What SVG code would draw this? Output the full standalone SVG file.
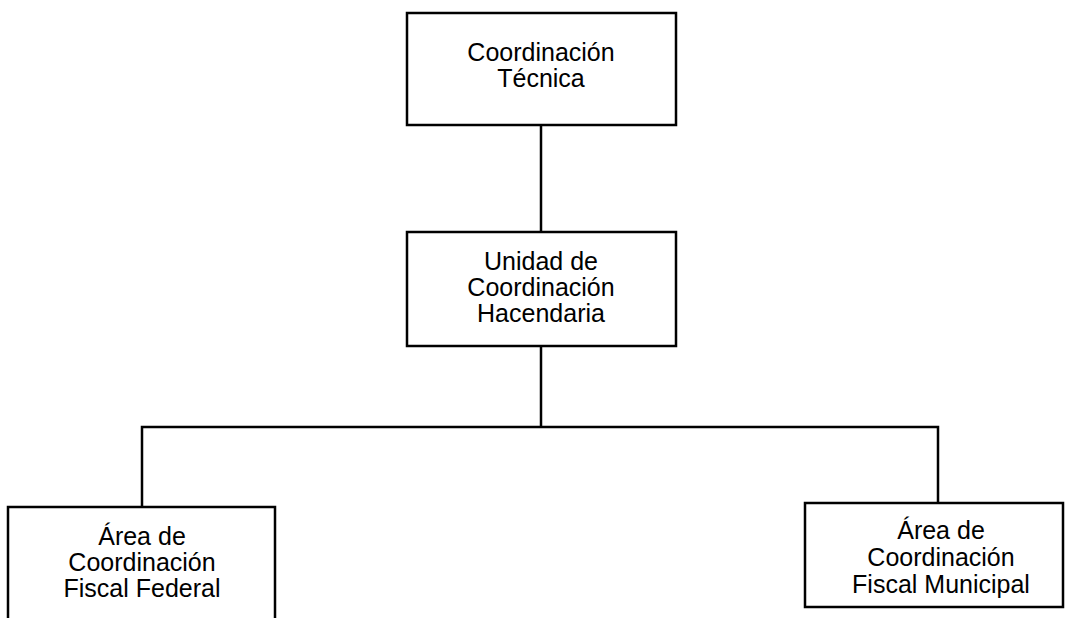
<svg xmlns="http://www.w3.org/2000/svg" width="1065" height="618" viewBox="0 0 1065 618">
<style>
.box{fill:#fff;stroke:#000;stroke-width:2.5}
.conn{fill:none;stroke:#000;stroke-width:2.5}
text{font-family:"Liberation Sans",Arial,sans-serif;font-size:25px;fill:#000;text-anchor:middle}
</style>
<rect width="1065" height="618" fill="#fff"/>
<g id="connectors">
<line class="conn" x1="541" y1="125" x2="541" y2="232"/>
<line class="conn" x1="541" y1="346" x2="541" y2="427"/>
<polyline class="conn" points="142,507 142,427 938,427 938,503"/>
</g>
<g id="coordinacion-tecnica">
<rect class="box" x="407" y="13" width="269" height="112"/>
<text x="541" y="61">Coordinación</text>
<text x="541" y="87">Técnica</text>
</g>
<g id="unidad-coordinacion-hacendaria">
<rect class="box" x="407" y="232" width="269" height="114"/>
<text x="541" y="270">Unidad de</text>
<text x="541" y="296">Coordinación</text>
<text x="541" y="322">Hacendaria</text>
</g>
<g id="area-fiscal-federal">
<rect class="box" x="8" y="507" width="267" height="125"/>
<text x="142" y="545">Área de</text>
<text x="142" y="571">Coordinación</text>
<text x="142" y="597">Fiscal Federal</text>
</g>
<g id="area-fiscal-municipal">
<rect class="box" x="805" y="503" width="258" height="104"/>
<text x="941" y="539">Área de</text>
<text x="941" y="566">Coordinación</text>
<text x="941" y="593">Fiscal Municipal</text>
</g>
</svg>
